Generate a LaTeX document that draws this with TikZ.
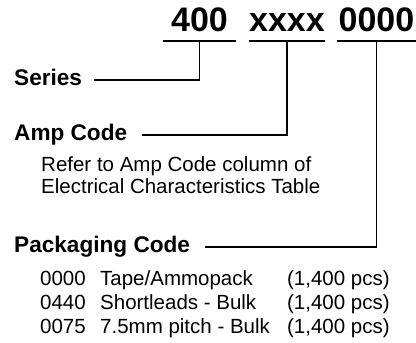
\documentclass[tikz,border=0pt]{standalone}
\usepackage{fontspec}
\setmainfont{Liberation Sans}
\usetikzlibrary{positioning}

\begin{document}
\begin{tikzpicture}
      [ x=1pt, y=-1pt,
        code/.style={font=\bfseries\fontsize{34}{38}\selectfont,
                     inner sep=0pt, text depth=10pt, anchor=base},
        lbl/.style={font=\bfseries\fontsize{22.6}{26}\selectfont, inner sep=0pt,
                    text height=10pt, text depth=0pt, anchor=base west},
        desc/.style={font=\fontsize{20.5}{24}\selectfont, inner sep=0pt, anchor=base west},
        uline/.style={line width=2.4pt},
        conn/.style={line width=1.6pt}
      ]
      \useasboundingbox (0,0) rectangle (416,343);

      % part number
      \node[code, minimum width=73pt]  (series) at (199.5,31) {400};
      \node[code, minimum width=76pt]  (ampc)   at (287,31)   {xxxx};
      \node[code, minimum width=79pt]  (packc)  at (376.5,31) {0000};

      \draw[uline] (series.south west) -- (series.south east);
      \draw[uline] (ampc.south west)   -- (ampc.south east);
      \draw[uline] (packc.south west)  -- (packc.south east);

      % labels
      \node[lbl]  (serlbl)  at (14,85)  {Series};
      \node[lbl]  (amplbl)  at (14,140) {Amp Code};
      \node[lbl]  (packlbl) at (14,252) {Packaging Code};

      \node[desc] (ampdesc1) at (41,171) {Refer to Amp Code column of};
      \node[desc] (ampdesc2) at (41,193) {Electrical Characteristics Table};

      \node[desc] (packtab) at (40,285)
        {\begin{tabular}[t]{@{}p{60pt}@{}p{187pt}@{}l@{}}
           0000 & Tape/Ammopack      & (1,400 pcs)\\
           0440 & Shortleads - Bulk  & (1,400 pcs)\\
           0075 & 7.5mm pitch - Bulk & (1,400 pcs)
         \end{tabular}};

      \draw[conn] ([xshift=12pt]serlbl.east)  -| (series.south);
      \draw[conn] ([xshift=15pt]amplbl.east)  -| (ampc.south);
      \draw[conn] ([xshift=15pt]packlbl.east) -| (packc.south);
\end{tikzpicture}
\end{document}
